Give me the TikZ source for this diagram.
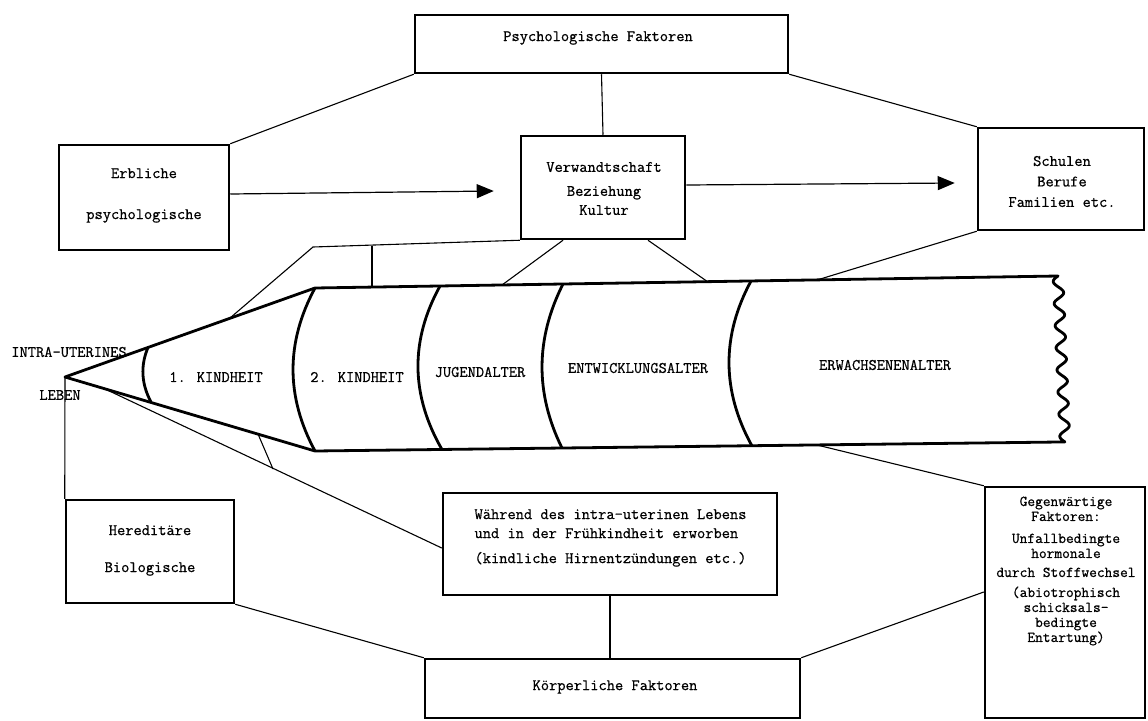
\documentclass[tikz,border=0pt]{standalone}
\usepackage{fontspec}
\newfontfamily\typewriter{Latin Modern Mono}[FakeBold=0.7]
\usetikzlibrary{arrows.meta}
\begin{document}
\begin{tikzpicture}[x=1pt,y=-1pt,
  frame/.style 2 args={draw, line width=2.5pt, minimum width=#1pt, minimum height=#2pt, inner sep=0pt},
  txt/.style={font=\fontsize{16}{20}\selectfont\typewriter, inner sep=0pt, align=center},
  link/.style={line width=1.1pt},
  flow/.style={line width=1.2pt, -{Triangle[length=17pt,width=14pt]}},
  pencil/.style={line width=2.8pt, line join=round}]

\fill[white] (0,0) rectangle (1148,720);
\useasboundingbox (0,0) rectangle (1148,720);

% boxes
\node[frame={373}{58}]  (psy) at (601.5,44) {};
\node[frame={170}{105}] (erb) at (144,197.5) {};
\node[frame={164}{103}] (ver) at (603,187.5) {};
\node[frame={166}{102}] (sch) at (1061,179) {};
\node[frame={168}{103}] (her) at (150,551.5) {};
\node[frame={334}{102}] (wah) at (610,544) {};
\node[frame={375}{59}]  (kor) at (612.5,688.5) {};
\node[frame={160}{231}] (geg) at (1065,602.5) {};

% box texts
\node[txt] (psyT) at (598,38) {Psychologische Faktoren};
\node[txt] (erbT) at (144,195.5) {Erbliche\\[21pt]psychologische};
\node[txt] (verT) at (604,188.5) {Verwandtschaft\\[4pt]Beziehung\\[-1pt]Kultur};
\node[txt] (schT) at (1062,181.5) {Schulen\\[0.5pt]Berufe\\[0.5pt]Familien etc.};
\node[txt] (herT) at (150,550.5) {Hereditäre\\[17pt]Biologische};
\node[txt, align=left, font=\fontsize{16}{19}\selectfont\typewriter] (wahT) at (610.5,538)
  {Während des intra-uterinen Lebens\\und in der Frühkindheit erworben\\[6pt](kindliche Hirnentzündungen etc.)};
\node[txt] (korT) at (615,687) {Körperliche Faktoren};
\node[txt, font=\fontsize{15}{15}\selectfont\typewriter] (gegT) at (1066,571)
  {Gegenwärtige\\Faktoren:\\[7pt]Unfallbedingte\\hormonale\\[4pt]durch Stoffwechsel\\[5pt](abiotrophisch\\schicksals-\\bedingte\\Entartung)};

% pencil outline
\coordinate (tip) at (65,377);
\coordinate (tl) at (315,288);
\coordinate (bl) at (315,451);
\coordinate (tr) at (1058,276);
\coordinate (br) at (1065,442);
\draw[pencil] (tip) -- (tl) -- (tr)
  -- plot[domain=0:1, samples=160, smooth, variable=\t]
     ({1058+7*\t-5*sin(2700*\t)}, {276+166*\t})
  -- (bl) -- cycle;

% section boundaries
\coordinate (a1t) at (148,347.5);  \coordinate (a1b) at (151,402);
\coordinate (a3t) at (440,286);    \coordinate (a3b) at (442,449.5);
\coordinate (a4t) at (563,284);    \coordinate (a4b) at (562,448);
\coordinate (a5t) at (751,281);    \coordinate (a5b) at (752,446);
\draw[pencil] (a1t) .. controls (140.3,365.7) and (141.3,383.8) .. (a1b);
\draw[pencil] (tl)  .. controls (285.7,342.3) and (285.7,396.7) .. (bl);
\draw[pencil] (a3t) .. controls (410,340.5) and (410.6,395) .. (a3b);
\draw[pencil] (a4t) .. controls (535.4,338.7) and (535,393.3) .. (a4b);
\draw[pencil] (a5t) .. controls (721.3,336) and (721.7,391) .. (a5b);

% section labels
\node[txt] (lIntra) at (69,352) {INTRA-UTERINES};
\node[txt] (lLeben) at (60,395) {LEBEN};
\node[txt] (lK1) at (216,377) {1. KINDHEIT};
\node[txt] (lK2) at (357,377) {2. KINDHEIT};
\node[txt] (lJug) at (480,372) {JUGENDALTER};
\node[txt] (lEnt) at (638,368) {ENTWICKLUNGSALTER};
\node[txt] (lErw) at (885,365) {ERWACHSENENALTER};

% psychological links
\draw[link] (psy.south west) -- (erb.north east);
\draw[link] (psy.south) -- (ver.north);
\draw[link] (psy.south east) -- (sch.north west);
\draw[flow] ([yshift=3.5pt]erb.east) -- ([xshift=-26pt,yshift=-3.5pt]ver.west);
\draw[flow] ([yshift=2.5pt]ver.east) -- ([xshift=-22pt,yshift=-4pt]sch.west);

\coordinate (u1) at (230,318);
\coordinate (u2) at (313,247);
\coordinate (u3) at (372,245.5);
\coordinate (u4) at (372,287);
\draw[link] (u1) -- (u2) -- (ver.south west);
\draw[link] (u3) -- (u4);
\coordinate (p1) at (502,285);
\coordinate (p2) at (708,282);
\coordinate (p3) at (817,280);
\draw[link] ([xshift=-40pt]ver.south) -- (p1);
\draw[link] ([xshift=45pt]ver.south) -- (p2);
\draw[link] (sch.south west) -- (p3);

% physical links
\coordinate (d1) at (103,388);
\coordinate (d2) at (258,434);
\coordinate (d3) at (273,469);
\coordinate (p4) at (817,445);
\draw[link] (tip) -- (her.north west);
\draw[link] (d1) -- ([yshift=-4pt]wah.west);
\draw[link] (d2) -- (d3);
\draw[link] (her.south east) -- (kor.north west);
\draw[link] (wah.south) -- (wah.south |- kor.north);
\draw[link] (kor.north east) -- ([yshift=10.5pt]geg.west);
\draw[link] (p4) -- (geg.north west);
\end{tikzpicture}
\end{document}
